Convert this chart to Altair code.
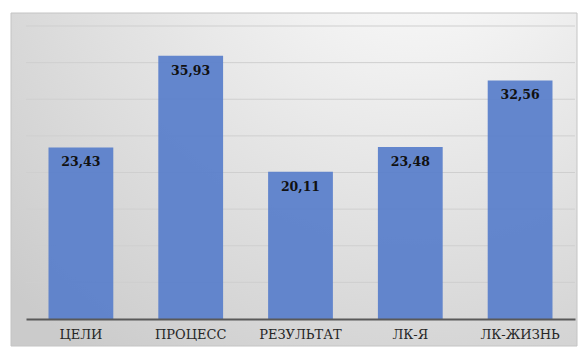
import altair as alt
import pandas as pd

categories = ["ЦЕЛИ", "ПРОЦЕСС", "РЕЗУЛЬТАТ", "ЛК-Я", "ЛК-ЖИЗНЬ"]
values = [23.43, 35.93, 20.11, 23.48, 32.56]
labels = ["23,43", "35,93", "20,11", "23,48", "32,56"]
grid_values = [5, 10, 15, 20, 25, 30, 35, 40]

df = pd.DataFrame({"cat": categories, "val": values, "lab": labels})
grid_df = pd.DataFrame({"g": grid_values})

W, H = 549, 293
SERIF = "DejaVu Serif"

panel_fill = {
    "gradient": "radial",
    "x1": 0.72, "y1": 0.0, "r1": 0.0,
    "x2": 0.72, "y2": 0.0, "r2": 1.0,
    "stops": [
        {"offset": 0.0, "color": "#ffffff"},
        {"offset": 0.3, "color": "#f0f0f0"},
        {"offset": 1.0, "color": "#cbcbcb"},
    ],
}

panel = alt.Chart(pd.DataFrame({"k": [0]})).mark_rect(
    color=panel_fill, stroke="#c4c4c4", strokeWidth=1
).encode(
    x=alt.value(-15), x2=alt.value(551), y=alt.value(-13), y2=alt.value(320)
)

y_scale = alt.Scale(domain=[0, 40])

grid = alt.Chart(grid_df).mark_rule(color="#cfcfcf", strokeWidth=1).encode(
    y=alt.Y("g:Q", scale=y_scale, axis=None, title=None),
    x=alt.value(0), x2=alt.value(W),
)

x_enc = alt.X(
    "cat:N", sort=categories, title=None,
    scale=alt.Scale(paddingInner=0.41, paddingOuter=0.205),
    axis=alt.Axis(
        labelAngle=0, ticks=False, domainColor="#595959", domainWidth=2,
        labelFont=SERIF, labelFontSize=13, labelColor="#262626",
        labelPadding=9, grid=False, zindex=2,
    ),
)
y_enc = alt.Y("val:Q", title=None, scale=y_scale, axis=None)

bars = alt.Chart(df).mark_bar(color="#5a80cb", opacity=0.94).encode(x=x_enc, y=y_enc)

text = alt.Chart(df).mark_text(
    font=SERIF, fontSize=12.5, fontWeight="bold", color="#111111",
    baseline="middle", dy=15,
).encode(x=alt.X("cat:N", sort=categories), y=alt.Y("val:Q", axis=None), text="lab:N")

chart = alt.layer(panel, grid, bars, text).properties(
    width=W, height=H,
    autosize=alt.AutoSizeParams(type="none"),
    padding={"left": 26, "top": 26, "right": 3, "bottom": 28},
    background="white",
).configure_view(stroke=None)

chart.save("out.html", embed_options={"renderer": "svg", "actions": False})
